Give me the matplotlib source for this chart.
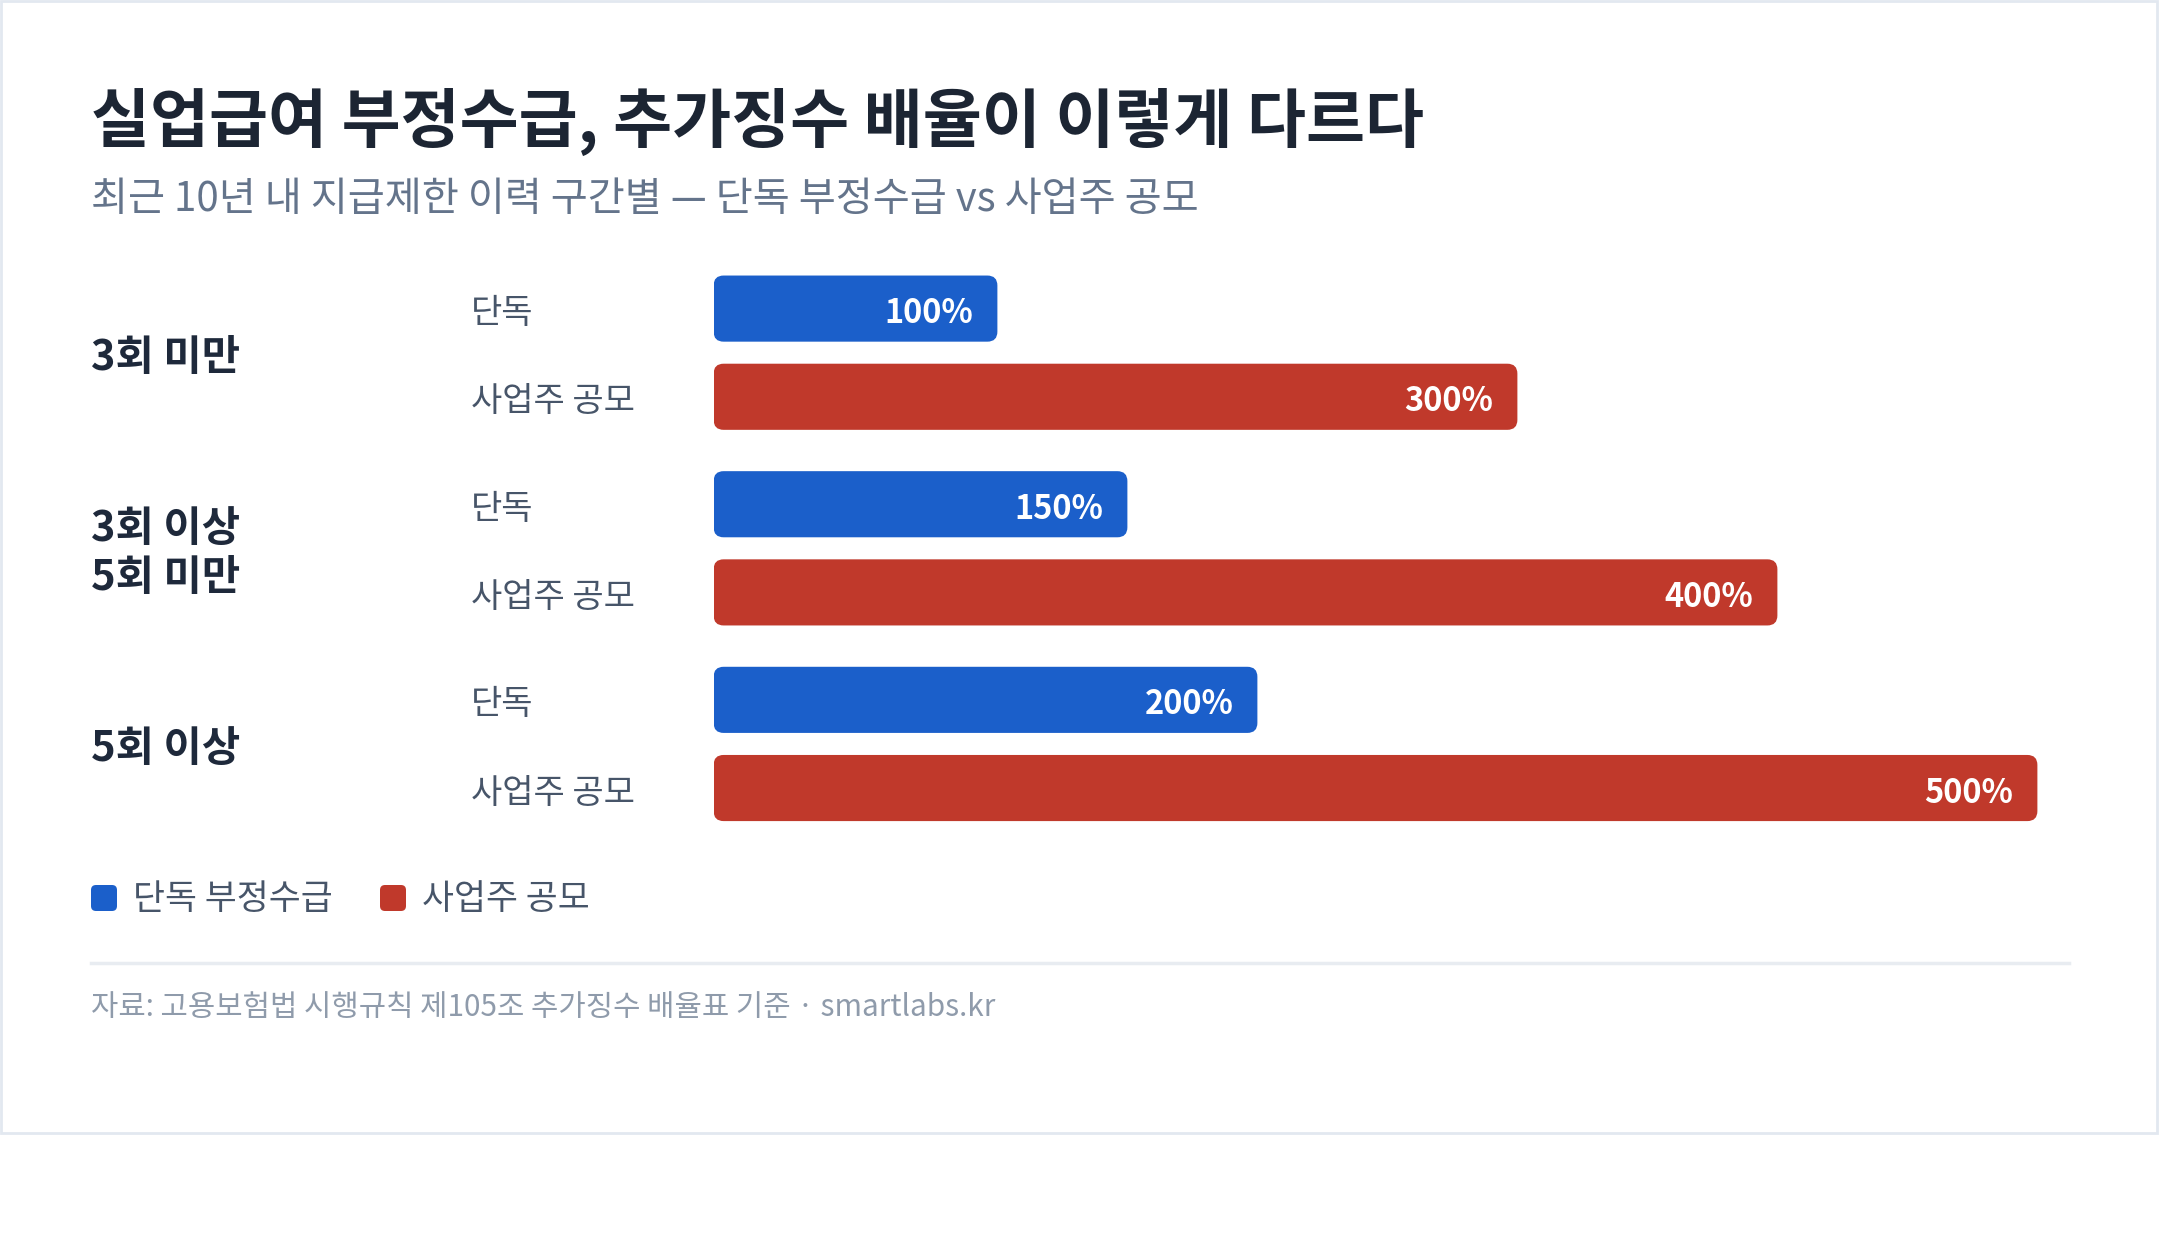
import matplotlib
matplotlib.use("Agg")
import matplotlib.pyplot as plt
from matplotlib.patches import FancyBboxPatch, Rectangle
from matplotlib.transforms import blended_transform_factory

plt.rcParams['font.family'] = ['Noto Sans CJK KR', 'DejaVu Sans']

# ---- data ----
title = "실업급여 부정수급, 추가징수 배율이 이렇게 다르다"
subtitle = "최근 10년 내 지급제한 이력 구간별 — 단독 부정수급 vs 사업주 공모"
groups = ["3회 미만", "3회 이상\n5회 미만", "5회 이상"]
series = ["단독", "사업주 공모"]
legend_labels = ["단독 부정수급", "사업주 공모"]
solo_values = [100, 150, 200]
collusion_values = [300, 400, 500]
footer = "자료: 고용보험법 시행규칙 제105조 추가징수 배율표 기준 · smartlabs.kr"

# ---- style ----
W, H, DPI = 2160, 1240, 100
BLUE = "#1b5fca"
RED = "#c0392b"
TITLE_C = "#1c2533"
SUB_C = "#64748b"
LABEL_C = "#475569"
GROUP_C = "#1e293b"
FOOT_C = "#8f9bab"
BORDER_C = "#e2e8f0"
colors = [BLUE, RED]

fig = plt.figure(figsize=(W / DPI, H / DPI), dpi=DPI)
fig.patch.set_facecolor("white")

def fx(px):
    return px / W

def fy(py):
    return 1 - py / H

# card border
fig.add_artist(Rectangle((fx(1), fy(1133)), fx(2157) - fx(1), fy(1) - fy(1133),
                         transform=fig.transFigure, facecolor="white",
                         edgecolor=BORDER_C, linewidth=2, zorder=0))

# title / subtitle
fig.text(fx(91), fy(122), title, fontsize=46.2, fontweight="bold", color=TITLE_C,
         va="center", ha="left")
fig.text(fx(91), fy(199), subtitle, fontsize=29, color=SUB_C, va="center", ha="left")

# ---- bars axes ----
PX_PER_UNIT_X = 2.6        # pixels per percent
X_PAD = 9.15               # bar starts a little left of zero (visual inset)
X_MAX = 510
ROW_STEP = 1.0
GROUP_STEP = 2.21875
BAR_H = 0.75
PX_PER_ROW = 88.17
Y_MARGIN = 0.7
TEXT_DY = -5               # pixels, nudge text down to optical center

ax_left = 713.6
ax_right = ax_left + PX_PER_UNIT_X * (X_MAX + X_PAD)
first_center = 308.6
n_groups = len(groups)
last_row = (n_groups - 1) * GROUP_STEP + ROW_STEP
ax_top = first_center - Y_MARGIN * PX_PER_ROW
ax_bottom = first_center + (last_row + Y_MARGIN) * PX_PER_ROW

ax = fig.add_axes([fx(ax_left), fy(ax_bottom), fx(ax_right) - fx(ax_left),
                   fy(ax_top) - fy(ax_bottom)])
ax.set_xlim(-X_PAD, X_MAX)
ax.set_ylim(last_row + Y_MARGIN, -Y_MARGIN)
ax.axis("off")

aspect = PX_PER_UNIT_X / PX_PER_ROW
radius_px = 10
label_tr = blended_transform_factory(fig.transFigure, ax.transData)

values = [solo_values, collusion_values]
for gi, g in enumerate(groups):
    gc = gi * GROUP_STEP + ROW_STEP / 2
    ax.annotate(g, xy=(fx(91), gc), xycoords=label_tr, xytext=(0, TEXT_DY),
                textcoords="offset pixels", fontsize=30, fontweight="bold",
                color=GROUP_C, ha="left", va="center", linespacing=1.2)
    for si, s in enumerate(series):
        y = gi * GROUP_STEP + si * ROW_STEP
        v = values[si][gi]
        bars = ax.barh([y], [v + X_PAD], left=-X_PAD, height=BAR_H, color="none")
        r = bars.patches[0]
        ax.add_patch(FancyBboxPatch((r.get_x(), r.get_y()), r.get_width(), r.get_height(),
                                    boxstyle=f"round,pad=0,rounding_size={radius_px / PX_PER_UNIT_X}",
                                    mutation_aspect=aspect,
                                    facecolor=colors[si], edgecolor="none"))
        ax.annotate(f"{v}%", xy=(v, y), xytext=(-24, TEXT_DY), textcoords="offset pixels",
                    ha="right", va="center", fontsize=23.5, fontweight="bold", color="white")
        ax.annotate(s, xy=(fx(471), y), xycoords=label_tr, xytext=(0, TEXT_DY),
                    textcoords="offset pixels", fontsize=24.5, color=LABEL_C,
                    ha="left", va="center")

# ---- legend ----
leg_y = 900
sq = 26
leg_items_x = [(91, 133), (380, 422)]
for (sx, tx), lab, c in zip(leg_items_x, legend_labels, colors):
    fig.add_artist(FancyBboxPatch((sx / DPI, (H - 898 - sq / 2) / DPI), sq / DPI, sq / DPI,
                                  boxstyle=f"round,pad=0,rounding_size={5 / DPI}",
                                  transform=fig.dpi_scale_trans,
                                  facecolor=c, edgecolor="none"))
    fig.text(fx(tx), fy(leg_y), lab, fontsize=25, color=LABEL_C, ha="left", va="center")

# divider
fig.add_artist(plt.Line2D([fx(91), fx(2069)], [fy(963), fy(963)], transform=fig.transFigure,
                          color="#e8ecf1", linewidth=2.5))

# footer
fig.text(fx(91), fy(1008), footer, fontsize=21.4, color=FOOT_C, ha="left", va="center")

fig.savefig("out.png", dpi=DPI, facecolor="white")
